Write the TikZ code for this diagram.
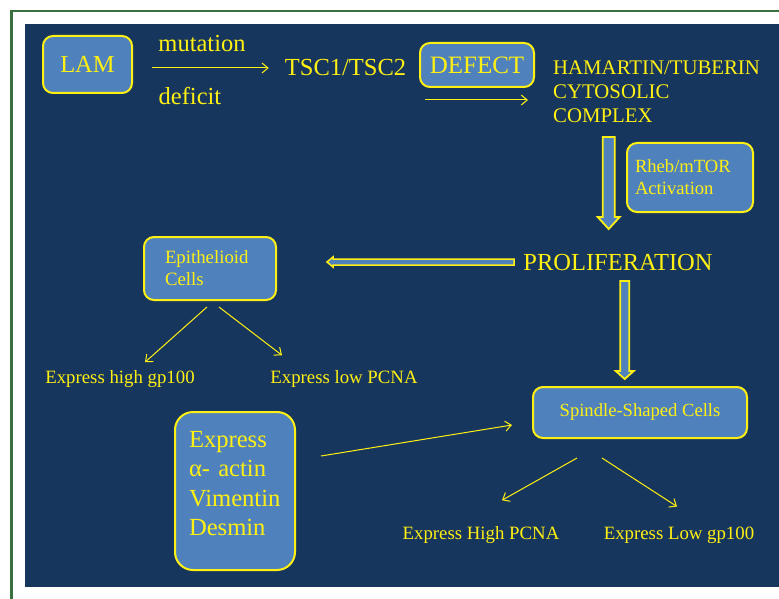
\documentclass[tikz,border=0pt]{standalone}
\usepackage{fontspec}
\setmainfont{Liberation Serif}
\usepackage{tikz}
\usetikzlibrary{arrows.meta}
\usetikzlibrary{calc}
\definecolor{panel}{RGB}{23,54,93}
\definecolor{boxblue}{RGB}{79,129,189}
\definecolor{ylw}{RGB}{255,240,20}
\definecolor{framegreen}{RGB}{56,112,62}
\newcommand\setfs[2]{\fontsize{#1}{#2}\selectfont}

\begin{document}
\begin{tikzpicture}[x=1pt, y=-1pt,
    box/.style={draw=ylw, fill=boxblue, line width=2pt, rounded corners=10pt, text=ylw},
    lbl/.style={text=ylw, inner sep=0pt},
    thinarrow/.style={draw=ylw, line width=1pt, -{Straight Barb[length=6pt, width=10pt]}},
    blockarrow/.style n args={3}{draw=ylw, fill=boxblue, line width=1.8pt, line join=miter,
      to path={let \p1=(\tikztostart), \p2=(\tikztotarget), \n1={atan2(\y2-\y1,\x2-\x1)} in
        ($(\p1)+(\n1+90:#1)$) -- ($(\p2)+(\n1+180:#3)+(\n1+90:#1)$)
        -- ($(\p2)+(\n1+180:#3)+(\n1+90:#2)$) -- (\p2)
        -- ($(\p2)+(\n1+180:#3)+(\n1-90:#2)$) -- ($(\p2)+(\n1+180:#3)+(\n1-90:#1)$)
        -- ($(\p1)+(\n1-90:#1)$) -- cycle}}]
  \path[use as bounding box, fill=white] (0,0) rectangle (779,599);
  \fill[panel] (25,24) rectangle (779,587);
  \draw[framegreen, line width=2.5pt] (11.5,599) -- (11.5,11) -- (779,11);

  % top row
  \node[box, minimum width=89pt, minimum height=57pt, font=\setfs{24.5pt}{29pt}] (lam) at (87.5,64.5) {LAM};
  \node[lbl, font=\setfs{24.5pt}{29pt}] (mut) at (202,44) {mutation};
  \node[lbl, font=\setfs{24.5pt}{29pt}] (def) at (190,96) {deficit};
  \node[lbl, font=\setfs{24.5pt}{29pt}] (tsc) at (345.5,68) {TSC1/TSC2};
  \node[box, minimum width=114pt, minimum height=44pt, font=\setfs{25pt}{29pt}] (defect) at (477,65) {DEFECT};
  \node[lbl, anchor=west, align=left, font=\setfs{20.8pt}{24pt}] (cplx) at (553,92) {HAMARTIN/TUBERIN\\CYTOSOLIC\\COMPLEX};

  \node[box, minimum width=126pt, minimum height=69pt, inner xsep=8pt, text width=110pt, align=left,
    font=\setfs{18.6pt}{22pt}] (rheb) at (690,177.5) {Rheb/mTOR\\Activation};
  \node[lbl, font=\setfs{24.5pt}{28pt}] (prol) at (618,263) {PROLIFERATION};

  % epithelioid branch
  \node[box, minimum width=132pt, minimum height=63pt, inner xsep=21pt, text width=90pt, align=left,
    font=\setfs{18.8pt}{22pt}] (epi) at (210,268.5) {Epithelioid\\Cells};
  \node[lbl, font=\setfs{18.8pt}{22pt}] (egp) at (120,379) {Express high gp100};
  \node[lbl, font=\setfs{18.8pt}{22pt}] (epc) at (344,379) {Express low PCNA};

  % spindle branch
  \node[box, minimum width=214pt, minimum height=51pt, font=\setfs{18.6pt}{22pt}] (spin) at (640,412.5) {Spindle-Shaped Cells};
  \node[box, rounded corners=18pt, minimum width=120pt, minimum height=158pt, inner xsep=14pt, text width=92pt,
    align=left, font=\setfs{24.6pt}{29.3pt}] (expr) at (235,491) {Express\\α- actin\\Vimentin\\Desmin\\[-14pt]\mbox{}};
  \node[lbl, font=\setfs{18.8pt}{22pt}] (ehp) at (481,535) {Express High PCNA};
  \node[lbl, font=\setfs{18.8pt}{22pt}] (elg) at (679,535) {Express Low gp100};

  \coordinate (b1s) at (608.7,137);
  \coordinate (b1e) at (608.7,229);
  \coordinate (b2s) at (514,262);
  \coordinate (b2e) at (327,262);
  \coordinate (b3s) at (624.7,281);
  \coordinate (b3e) at (624.7,379);

  \draw[thinarrow] ([shift={(18.5,3.5)}]lam.east) -- ([shift={(-16,0)}]tsc.west);
  \draw[thinarrow] ([shift={(6,12)}]defect.south west) -- ([shift={(-7,12)}]defect.south east);
  \draw[blockarrow={6pt}{11pt}{12pt}] (b1s) to (b1e);
  \draw[blockarrow={3pt}{5pt}{6pt}, line width=1.5pt] (b2s) to (b2e);
  \draw[blockarrow={4.5pt}{9pt}{8pt}] (b3s) to (b3e);

  \draw[thinarrow] ([shift={(-3,6)}]epi.south) -- ([shift={(25,-8)}]egp.north);
  \draw[thinarrow] ([shift={(9,6)}]epi.south) -- ([shift={(-62,-15)}]epc.north);
  \draw[thinarrow] ([shift={(25,45)}]expr.north east) -- ([shift={(-20,12.5)}]spin.west);
  \draw[thinarrow] ([shift={(-63,19)}]spin.south) -- ([shift={(21,-26)}]ehp.north);
  \draw[thinarrow] ([shift={(-38,19)}]spin.south) -- ([shift={(-2,-20)}]elg.north);
\end{tikzpicture}
\end{document}
